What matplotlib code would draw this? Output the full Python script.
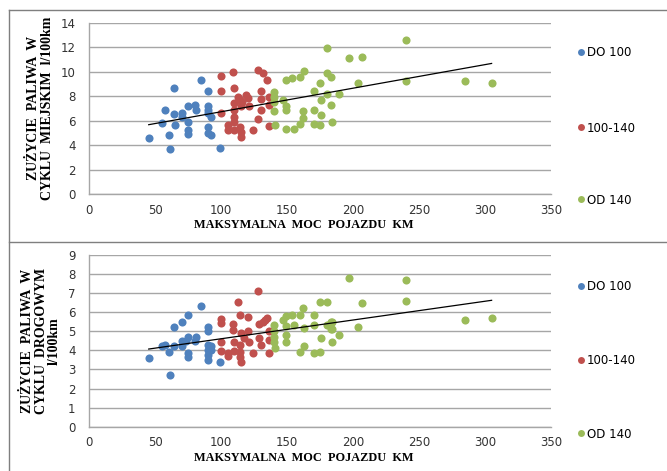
import numpy as np
import matplotlib
matplotlib.use('Agg')
import matplotlib.pyplot as plt
from matplotlib.lines import Line2D

# Moc maksymalna [KM] i zużycie paliwa w cyklu miejskim [l/100km]
city_do100_x = [45, 55, 57, 60, 61, 64, 64, 65, 70, 70, 75, 75, 75, 75, 80, 81, 85, 90, 90, 90, 90, 90, 90, 92, 92, 99]
city_do100_y = [4.55, 5.8, 6.85, 4.8, 3.7, 8.7, 6.55, 5.65, 6.65, 6.3, 7.2, 5.9, 5.2, 4.9, 7.3, 6.9, 9.35, 8.45, 7.15, 6.85, 6.6, 5.5, 4.95, 6.3, 4.85, 3.8]

city_100_140_x = [100, 100, 100, 105, 105, 109, 110, 110, 110, 110, 110, 110, 113, 114, 114, 115, 115, 115, 116, 119, 120, 121, 124, 128, 128, 130, 130, 130, 132, 135, 136, 136, 136]
city_100_140_y = [9.6, 8.45, 6.65, 5.65, 5.25, 9.95, 8.7, 7.4, 6.85, 6.3, 5.9, 5.25, 7.95, 7.7, 5.5, 7.15, 5.1, 4.65, 7.55, 8.1, 7.85, 7.15, 5.25, 10.1, 6.15, 8.45, 7.75, 6.85, 9.85, 9.3, 7.95, 7.25, 5.55]

city_od140_x = [140, 140, 140, 140, 141, 147, 149, 149, 149, 149, 154, 155, 160, 160, 162, 162, 163, 170, 170, 170, 175, 175, 176, 176, 180, 180, 180, 183, 183, 184, 189, 197, 204, 207, 240, 240, 285, 305]
city_od140_y = [8.35, 7.95, 7.55, 6.75, 5.65, 7.7, 9.3, 7.15, 6.85, 5.35, 9.45, 5.35, 9.55, 5.7, 6.75, 6.2, 10.05, 8.45, 6.9, 5.75, 9.1, 5.6, 7.7, 6.45, 11.9, 9.85, 8.2, 9.55, 7.25, 5.85, 8.15, 11.15, 9.1, 11.2, 12.55, 9.25, 9.25, 9.05]

# Moc maksymalna [KM] i zużycie paliwa w cyklu drogowym [l/100km]
road_do100_x = [45, 55, 57, 60, 61, 64, 64, 70, 70, 70, 73, 75, 75, 75, 75, 80, 81, 85, 90, 90, 90, 90, 90, 90, 92, 92, 99]
road_do100_y = [3.6, 4.25, 4.3, 3.9, 2.7, 5.2, 4.25, 5.5, 4.5, 4.2, 4.5, 5.85, 4.7, 3.85, 3.65, 4.5, 4.7, 6.3, 5.2, 5.0, 4.3, 4.0, 3.75, 3.5, 4.2, 4.0, 3.4]

road_100_140_x = [100, 100, 100, 100, 105, 105, 109, 109, 110, 110, 113, 114, 114, 114, 114, 115, 115, 117, 120, 120, 121, 124, 128, 129, 129, 130, 132, 133, 135, 136, 136, 136]
road_100_140_y = [5.65, 5.45, 4.45, 3.95, 3.85, 3.7, 5.4, 5.05, 4.45, 3.95, 6.55, 5.85, 4.3, 3.9, 3.65, 3.4, 4.9, 4.65, 5.75, 5.0, 4.45, 3.85, 7.1, 5.4, 4.65, 4.3, 5.5, 5.6, 5.7, 5.0, 4.55, 3.85]

road_od140_x = [140, 140, 140, 140, 141, 147, 149, 149, 149, 149, 154, 155, 160, 160, 162, 163, 163, 170, 170, 170, 175, 175, 176, 180, 180, 183, 183, 184, 184, 184, 189, 197, 204, 207, 240, 240, 285, 305]
road_od140_y = [5.3, 5.0, 4.7, 4.45, 4.1, 5.6, 5.8, 5.25, 4.8, 4.45, 5.85, 5.3, 5.85, 3.9, 6.2, 5.15, 4.2, 5.85, 5.3, 3.85, 3.9, 6.55, 4.65, 6.55, 5.3, 5.5, 5.1, 4.45, 5.5, 5.1, 4.8, 7.8, 5.2, 6.5, 7.7, 6.6, 5.6, 5.7]

series_labels = ['DO 100', '100-140', 'OD 140']
colors = ['#4F81BD', '#C0504D', '#9BBB59']

plt.rcParams['font.family'] = ['DejaVu Sans']

fig = plt.figure(figsize=(6.67, 4.71), dpi=100)


def draw_panel(rect, xs, ys, ymax, ylabel, legend_y):
    ax = fig.add_axes(rect)
    for x, y, c in zip(xs, ys, colors):
        ax.scatter(x, y, s=34, color=c, linewidths=0, zorder=3)

    # linia trendu liniowego dla wszystkich punktów
    all_x = np.concatenate([np.array(x, float) for x in xs])
    all_y = np.concatenate([np.array(y, float) for y in ys])
    a, b = np.polyfit(all_x, all_y, 1)
    tx = np.array([all_x.min(), all_x.max()])
    ax.plot(tx, a * tx + b, color='black', linewidth=0.9, zorder=4)

    ax.set_xlim(0, 350)
    ax.set_ylim(0, ymax)
    ax.set_xticks(range(0, 351, 50))
    ax.set_yticks(range(0, ymax + 1, 2 if ymax > 10 else 1))
    ax.yaxis.grid(True, color='#a6a6a6', linewidth=1.0)
    ax.set_axisbelow(True)
    for side in ['top', 'right']:
        ax.spines[side].set_visible(False)
    for side in ['left', 'bottom']:
        ax.spines[side].set_color('#a6a6a6')
        ax.spines[side].set_linewidth(1.0)
    ax.tick_params(length=0, labelsize=8.5, colors='#333333', pad=7)
    ax.tick_params(axis='y', pad=10)

    ax.set_xlabel('MAKSYMALNA  MOC  POJAZDU  KM', family='Liberation Serif',
                  fontweight='bold', fontsize=8.8)
    ax.xaxis.set_label_coords(0.465, -0.145)
    ax.set_ylabel(ylabel, family='Liberation Serif', fontweight='bold',
                  fontsize=10, linespacing=1.05, labelpad=5)

    handles = [Line2D([], [], marker='o', linestyle='', markersize=5,
                      markerfacecolor=c, markeredgewidth=0) for c in colors]
    for h, lab, ly in zip(handles, series_labels, legend_y):
        fig.legend([h], [lab], loc='center left', bbox_to_anchor=(0.862, ly),
                   frameon=False, handletextpad=0.0, handlelength=1.0,
                   fontsize=8.5, borderpad=0, borderaxespad=0)
    return ax


draw_panel([0.134, 0.588, 0.692, 0.364],
           [city_do100_x, city_100_140_x, city_od140_x],
           [city_do100_y, city_100_140_y, city_od140_y],
           14, 'ZUŻYCIE  PALIWA  W\nCYKLU  MIEJSKIM  l/100km',
           [1 - 53 / 471, 1 - 128 / 471, 1 - 200 / 471])

draw_panel([0.134, 0.094, 0.692, 0.365],
           [road_do100_x, road_100_140_x, road_od140_x],
           [road_do100_y, road_100_140_y, road_od140_y],
           9, 'ZUŻYCIE  PALIWA  W\nCYKLU  DROGOWYM\nl/100km',
           [1 - 287 / 471, 1 - 361 / 471, 1 - 434 / 471])

# ramki obu wykresów
frame_color = '#7f7f7f'
fig.add_artist(Line2D([9 / 667, 1], [1 - 10 / 471] * 2, color=frame_color, linewidth=1.0))
fig.add_artist(Line2D([9 / 667, 1], [1 - 242 / 471] * 2, color=frame_color, linewidth=1.0))
fig.add_artist(Line2D([9 / 667] * 2, [0, 1 - 10 / 471], color=frame_color, linewidth=1.0))

fig.savefig('out.png', dpi=100)
